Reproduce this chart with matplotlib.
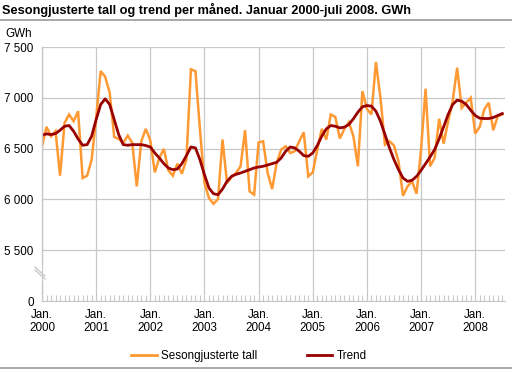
import matplotlib
matplotlib.use("Agg")
import matplotlib.pyplot as plt
from matplotlib.lines import Line2D
import numpy as np

# Sesongjusterte tall, GWh, Jan 2000 - Jul 2008
seasonal = [
    6523, 6714, 6622, 6671, 6233, 6753, 6836, 6770, 6868, 6210, 6233, 6391,   # 2000
    6800, 7263, 7207, 7050, 6615, 6595, 6556, 6628, 6556, 6128, 6572, 6694,   # 2001
    6580, 6266, 6408, 6497, 6286, 6233, 6352, 6253, 6391, 7280, 7263, 6688,   # 2002
    6161, 6013, 5957, 6003, 6589, 6161, 6220, 6260, 6326, 6681, 6079, 6046,   # 2003
    6560, 6572, 6260, 6102, 6359, 6490, 6523, 6457, 6474, 6572, 6661, 6227,   # 2004
    6266, 6490, 6694, 6589, 6836, 6812, 6599, 6694, 6760, 6622, 6326, 7066,   # 2005
    6890, 6836, 7352, 7000, 6539, 6572, 6530, 6375, 6036, 6128, 6178, 6056,   # 2006
    6490, 7089, 6326, 6408, 6793, 6549, 6770, 6967, 7296, 6901, 6951, 7000,   # 2007
    6648, 6714, 6885, 6951, 6681, 6819, 6836,                                 # 2008
]
trend = [
    6632, 6645, 6638, 6648, 6681, 6720, 6727, 6671, 6595, 6533, 6539, 6622,
    6786, 6934, 6990, 6934, 6786, 6638, 6539, 6533, 6539, 6539, 6539, 6530,
    6516, 6457, 6408, 6352, 6309, 6293, 6299, 6352, 6431, 6516, 6507, 6391,
    6243, 6112, 6056, 6046, 6102, 6178, 6227, 6247, 6260, 6276, 6293, 6309,
    6319, 6326, 6339, 6352, 6365, 6408, 6474, 6516, 6507, 6474, 6431, 6424,
    6457, 6530, 6622, 6694, 6727, 6720, 6704, 6711, 6737, 6793, 6859, 6911,
    6924, 6918, 6868, 6770, 6638, 6507, 6391, 6293, 6211, 6178, 6188, 6227,
    6286, 6352, 6418, 6490, 6595, 6714, 6836, 6934, 6977, 6967, 6934, 6878,
    6826, 6799, 6796, 6796, 6806, 6826, 6845,
]
years = ["2000", "2001", "2002", "2003", "2004", "2005", "2006", "2007", "2008"]
ytick_vals = [5000, 5500, 6000, 6500, 7000, 7500]
ytick_labels = ["0", "5 500", "6 000", "6 500", "7 000", "7 500"]

plt.rcParams["font.family"] = ["Liberation Sans", "DejaVu Sans"]
grid_col = "#c8c8c8"
orange = "#FF9933"
darkred = "#990000"

W, H = 512, 372
fig = plt.figure(figsize=(W / 100, H / 100), dpi=100)
ax = fig.add_axes([42 / W, (H - 301) / H, (505 - 42) / W, (301 - 47) / H])

x = np.arange(len(seasonal))
ax.plot(x, seasonal, color=orange, lw=1.8, solid_joinstyle="miter")
ax.plot(x, trend, color=darkred, lw=2.0)

ax.set_xlim(0, 102.6)
ax.set_ylim(5000, 7500)
ax.set_yticks(ytick_vals)
ax.set_yticklabels(ytick_labels, fontsize=8.4)
ax.set_xticks(np.arange(0, 97, 12))
ax.set_xticklabels(["Jan.\n" + y for y in years], fontsize=8.4, linespacing=1.05)
ax.set_xticks(np.arange(0, 103), minor=True)

ax.grid(True, which="major", color=grid_col, lw=0.9)
ax.tick_params(axis="y", length=0, pad=6)
ax.tick_params(axis="x", which="major", length=0, pad=6)
ax.tick_params(axis="x", which="minor", direction="in", length=4, color=grid_col, width=0.8)

for s in ["top", "right", "left"]:
    ax.spines[s].set_visible(False)
ax.spines["bottom"].set_color(grid_col)

# broken left axis
def ay(px):
    return (301 - px) / (301 - 47)

ax.add_line(Line2D([0, 0], [ay(264), 1], transform=ax.transAxes, color=grid_col, lw=1.0, clip_on=False))
ax.add_line(Line2D([0, 0], [0, ay(282)], transform=ax.transAxes, color=grid_col, lw=1.0, clip_on=False))
for off in (0, 3):
    ax.add_line(Line2D([(35 - 42) / 463, (45 - 42) / 463], [ay(267 + off), ay(276 + off)],
                       transform=ax.transAxes, color=grid_col, lw=1.0, clip_on=False))

fig.text(5 / W, 1 - 37 / H, "GWh", fontsize=8.4, ha="left", va="baseline")
fig.text(2 / W, 1 - 14 / H, "Sesongjusterte tall og trend per måned. Januar 2000-juli 2008. GWh",
         fontsize=9.2, fontweight="bold", ha="left", va="baseline")

fig.add_artist(Line2D([0, 1], [1 - 20 / H, 1 - 20 / H], color="#999999", lw=1.2))
fig.add_artist(Line2D([0, 1], [1 - 368 / H, 1 - 368 / H], color="#999999", lw=1.2))

handles = [Line2D([], [], color=orange, lw=2), Line2D([], [], color=darkred, lw=2)]
fig.legend(handles, ["Sesongjusterte tall", "Trend"], loc="center", bbox_to_anchor=(249 / W, 1 - 356 / H),
           ncol=2, frameon=False, fontsize=8.4, handlelength=2.2, handletextpad=0.4, columnspacing=4.2)

fig.savefig("out.png", dpi=100)
